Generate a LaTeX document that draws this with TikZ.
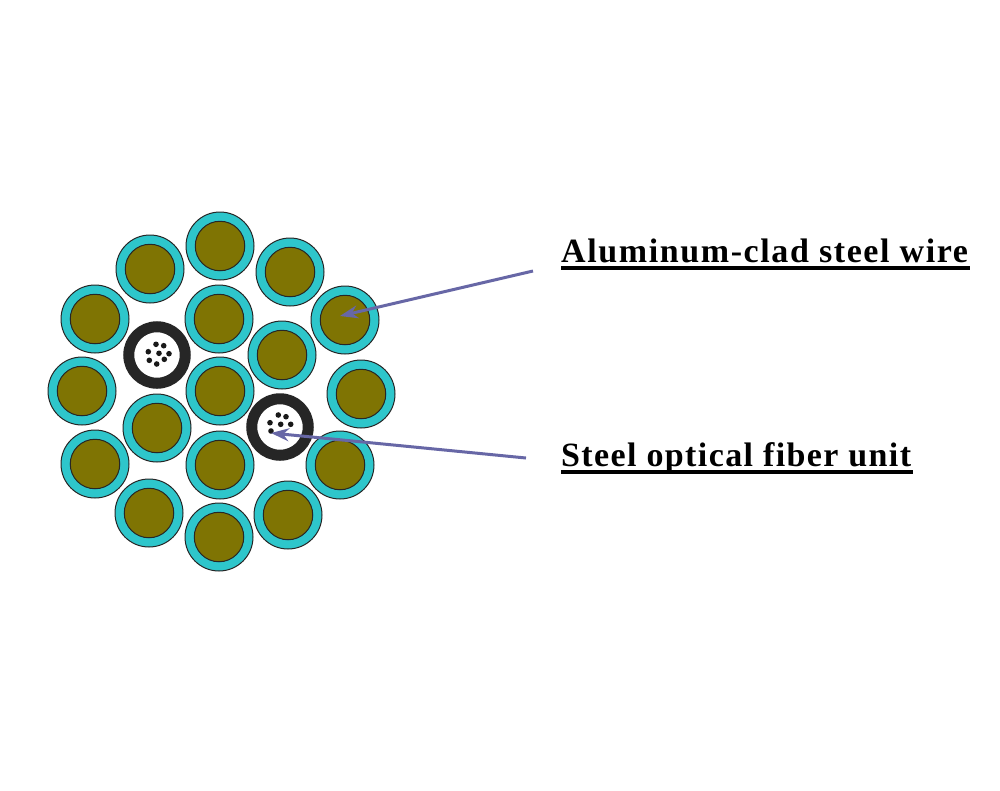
\documentclass[tikz,border=0pt]{standalone}
\usepackage{fontspec}
\setmainfont{Liberation Serif}
\newfontfamily\labelfonta{Liberation Serif}[LetterSpace=4.7]
\newfontfamily\labelfontb{Liberation Serif}[LetterSpace=4.1]
\definecolor{cladteal}{HTML}{2EC6CB}
\definecolor{coreolive}{HTML}{7F7403}
\definecolor{armdark}{HTML}{262626}
\definecolor{arrowblue}{HTML}{6767A6}
\usetikzlibrary{arrows.meta}
\tikzset{
  wireouter/.style={circle,draw=armdark,line width=1pt,fill=cladteal,minimum size=68pt,inner sep=0pt},
  wirecore/.style={circle,draw=armdark,line width=1pt,fill=coreolive,minimum size=49.5pt,inner sep=0pt},
  tubeouter/.style={circle,draw=armdark,line width=11pt,fill=white,minimum size=56.5pt,inner sep=0pt},
  fiberdot/.style={circle,fill=black!90,minimum size=5.6pt,inner sep=0pt},
  labeltext/.style={anchor=base west,inner sep=0pt,text=black},
  labelrule/.style={line width=4pt,black},
  pointer/.style={line width=3pt,arrowblue,-{Stealth[length=18pt,width=13pt]}}
}
\begin{document}
\begin{tikzpicture}[x=1pt,y=-1pt]
\useasboundingbox[fill=white] (0,0) rectangle (1000,790);
\foreach \n/\x/\y in {a/220/246,b/150/269,c/290/272,d/95/319,e/345/320,f/82/391,g/361/394,h/95/464,i/340/465,j/149/513,k/288/515,l/219/537,m/219/319,o/282/355,p/220/391,q/157/428,r/220/465}{
  \node[wireouter] (w\n) at (\x,\y) {};
  \node[wirecore] (c\n) at (\x,\y) {};
}
\foreach \n/\x/\y in {s/157/355,t/280/427}{
  \node[tubeouter] (u\n) at (\x,\y) {};
}
\foreach \n/\x/\y in {1/156/344.3,2/163.7/345.7,3/148.3/351.7,4/159/353.3,5/169/353.7,6/149.3/360.3,7/164.3/359.3,8/156.7/364,
  9/278.3/415,10/286/416.7,11/270/422.7,12/280.7/424.3,13/290.7/424.3,14/271/431}{
  \node[fiberdot] (d\n) at (\x,\y) {};
}
\node[labeltext,font=\labelfonta\bfseries\fontsize{34}{38}\selectfont] (la) at (561,262.7) {Aluminum-clad steel wire};
\node[labeltext,font=\labelfontb\bfseries\fontsize{34}{38}\selectfont] (lb) at (561,466.7) {Steel optical fiber unit};
\draw[labelrule] (561,268.3) -- (970,268.3);
\draw[labelrule] (561,472.3) -- (913,472.3);
\coordinate (ta) at (533,271);
\coordinate (tb) at (526,458);
\coordinate (ha) at (340,316);
\coordinate (hb) at (271,433);
\draw[pointer] (ta) -- (ha);
\draw[pointer] (tb) -- (hb);
\end{tikzpicture}
\end{document}
